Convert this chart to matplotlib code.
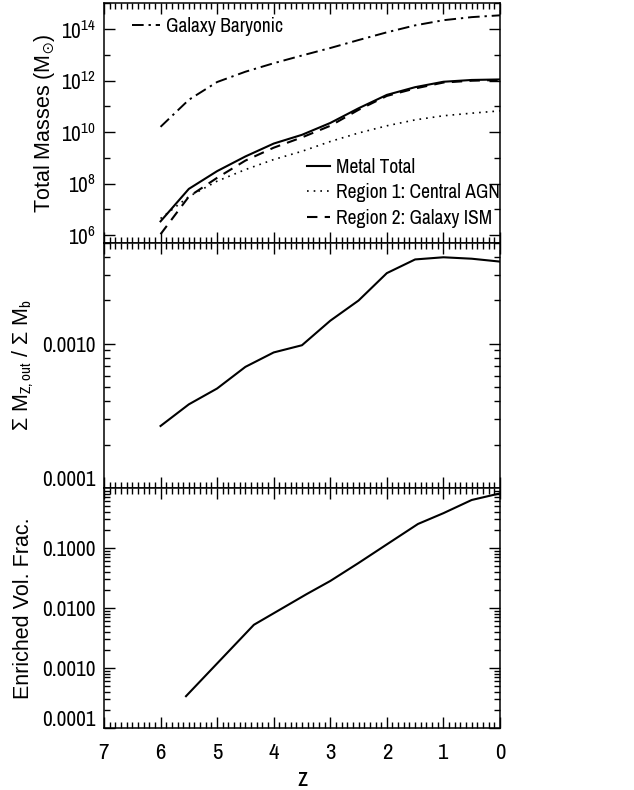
import numpy as np
import matplotlib
matplotlib.use("Agg")
import matplotlib.pyplot as plt
from matplotlib import font_manager
from matplotlib.ticker import FixedLocator, FuncFormatter, NullFormatter, MultipleLocator, LogLocator
from matplotlib.transforms import ScaledTranslation

NARROW, nscale = 'Liberation Sans', 0.85
for cand in ['Arial Narrow', 'Liberation Sans Narrow', 'Archivo Narrow', 'PT Sans Narrow', 'Roboto Condensed']:
    try:
        font_manager.findfont(cand, fallback_to_default=False)
        NARROW, nscale = cand, 1.0
        break
    except Exception:
        pass

plt.rcParams['font.family'] = [NARROW, 'DejaVu Sans']
plt.rcParams['mathtext.fontset'] = 'custom'
plt.rcParams['mathtext.rm'] = NARROW
plt.rcParams['mathtext.it'] = NARROW + ':italic'
plt.rcParams['mathtext.bf'] = NARROW + ':bold'
plt.rcParams['mathtext.fallback'] = 'stixsans'

# ---- data ----
z_mass = [6.0, 5.5, 5.0, 4.5, 4.0, 3.5, 3.0, 2.5, 2.0, 1.5, 1.0, 0.5, 0.0]
log_baryonic = [10.21, 11.26, 11.95, 12.35, 12.68, 12.98, 13.27, 13.58, 13.88, 14.15, 14.35, 14.47, 14.54]
log_metal_total = [6.54, 7.80, 8.49, 9.06, 9.56, 9.90, 10.36, 10.93, 11.45, 11.75, 11.96, 12.03, 12.05]
log_region1 = [6.65, 7.50, 8.10, 8.55, 8.94, 9.26, 9.64, 9.97, 10.25, 10.48, 10.64, 10.74, 10.83]
log_region2 = [6.04, 7.50, 8.23, 8.90, 9.40, 9.80, 10.25, 10.87, 11.41, 11.70, 11.93, 12.00, 12.03]

z_ratio = [6.0, 5.5, 5.0, 4.5, 4.0, 3.5, 3.0, 2.5, 2.0, 1.5, 1.0, 0.5, 0.0]
log_ratio = [-3.57, -3.42, -3.31, -3.16, -3.06, -3.01, -2.84, -2.70, -2.51, -2.415, -2.40, -2.41, -2.43]

z_vol = [5.55, 4.35, 3.42, 3.0, 2.5, 2.0, 1.45, 1.0, 0.5, 0.0]
log_vol = [-3.47, -2.28, -1.77, -1.55, -1.25, -0.94, -0.60, -0.42, -0.20, -0.09]

mass_ticks = [1e6, 1e8, 1e10, 1e12, 1e14]
mass_minor = [1e7, 1e9, 1e11, 1e13, 1e15]
ratio_ticks = [1e-4, 1e-3]
vol_ticks = [1e-4, 1e-3, 1e-2, 1e-1]
x_ticks = [7, 6, 5, 4, 3, 2, 1, 0]

fig = plt.figure(figsize=(6.34, 7.9), dpi=100)
L, W = 0.164, 0.6246
ax1 = fig.add_axes([L, 0.6924, W, 0.9956 - 0.6924])
ax2 = fig.add_axes([L, 0.3823, W, 0.6924 - 0.3823])
ax3 = fig.add_axes([L, 0.0785, W, 0.3823 - 0.0785])

lw = 1.5
ax1.plot(z_mass, 10 ** np.array(log_baryonic), color='black', lw=1.4, dashes=(6, 2.5, 1.2, 2.5), label='Galaxy Baryonic')
ax1.plot(z_mass, 10 ** np.array(log_metal_total), color='black', lw=lw, label='Metal Total')
ax1.plot(z_mass, 10 ** np.array(log_region1), color='black', lw=1.2, dashes=(1, 3), label='Region 1: Central AGN')
ax1.plot(z_mass, 10 ** np.array(log_region2), color='black', lw=1.5, dashes=(5, 3.5), label='Region 2: Galaxy ISM')

ax2.plot(z_ratio, 10 ** np.array(log_ratio), color='black', lw=lw)
ax3.plot(z_vol, 10 ** np.array(log_vol), color='black', lw=lw)

ylab_font = dict(family=['Liberation Sans', 'DejaVu Sans'], fontsize=15.5)

for ax in (ax1, ax2, ax3):
    ax.set_xlim(7, 0)
    ax.set_yscale('log')
    ax.xaxis.set_major_locator(FixedLocator(x_ticks))
    ax.xaxis.set_minor_locator(MultipleLocator(0.1))
    ax.tick_params(which='both', direction='in', top=True, right=True, width=1.0, colors='black')
    ax.tick_params(which='major', length=8, labelsize=15.3 * nscale, pad=6)
    ax.tick_params(which='minor', length=4)
    for s in ax.spines.values():
        s.set_linewidth(1.1)

ax1.set_ylim(5e5, 1e15)
ax1.yaxis.set_major_locator(FixedLocator(mass_ticks))
ax1.yaxis.set_minor_locator(FixedLocator(mass_minor))
ax1.yaxis.set_minor_formatter(NullFormatter())
ax1.tick_params(axis='x', labelbottom=False)
ax1.set_ylabel(r'Total Masses (M$_{\odot}$)', **ylab_font)
ax1.yaxis.set_label_coords(-0.118, 0.5)

fmt4 = FuncFormatter(lambda v, p: '%.4f' % v)
ax2.set_ylim(1e-4, 5e-3)
ax2.yaxis.set_major_locator(FixedLocator(ratio_ticks))
ax2.yaxis.set_minor_locator(LogLocator(base=10, subs=np.arange(2, 10)))
ax2.yaxis.set_major_formatter(fmt4)
ax2.yaxis.set_minor_formatter(NullFormatter())
ax2.tick_params(axis='x', labelbottom=False)
ax2.set_ylabel('Σ M$_{\\rm Z,out}$ / Σ M$_{\\rm b}$', **ylab_font)
ax2.yaxis.set_label_coords(-0.172, 0.5)

ax3.set_ylim(1e-4, 1)
ax3.yaxis.set_major_locator(FixedLocator(vol_ticks))
ax3.yaxis.set_minor_locator(LogLocator(base=10, subs=np.arange(2, 10)))
ax3.yaxis.set_major_formatter(fmt4)
ax3.yaxis.set_minor_formatter(NullFormatter())
ax3.set_ylabel('Enriched Vol. Frac.', **ylab_font)
ax3.yaxis.set_label_coords(-0.176, 0.5)
ax3.set_xlabel('z', fontsize=18 * nscale, labelpad=3)
ax3.tick_params(axis='x', labelsize=16.5 * nscale, pad=11)

# raise the lowest labels slightly (as in reference)
fig.canvas.draw()
for ax in (ax2, ax3):
    lab = ax.yaxis.get_majorticklabels()[0]
    lab.set_transform(lab.get_transform() + ScaledTranslation(0, 7 / 72, fig.dpi_scale_trans))

h, l = ax1.get_legend_handles_labels()
leg1 = ax1.legend([h[0]], [l[0]], loc='upper left', bbox_to_anchor=(0.07, 0.945), frameon=False,
                  fontsize=14 * nscale, handlelength=1.45, handletextpad=0.3, borderaxespad=0, borderpad=0)
ax1.add_artist(leg1)
ax1.legend(h[1:], l[1:], loc='lower left', bbox_to_anchor=(0.513, 0.063), frameon=False,
           fontsize=14 * nscale, handlelength=1.2, handletextpad=0.28, labelspacing=0.34,
           borderaxespad=0, borderpad=0)

fig.savefig('out.png', dpi=100)
